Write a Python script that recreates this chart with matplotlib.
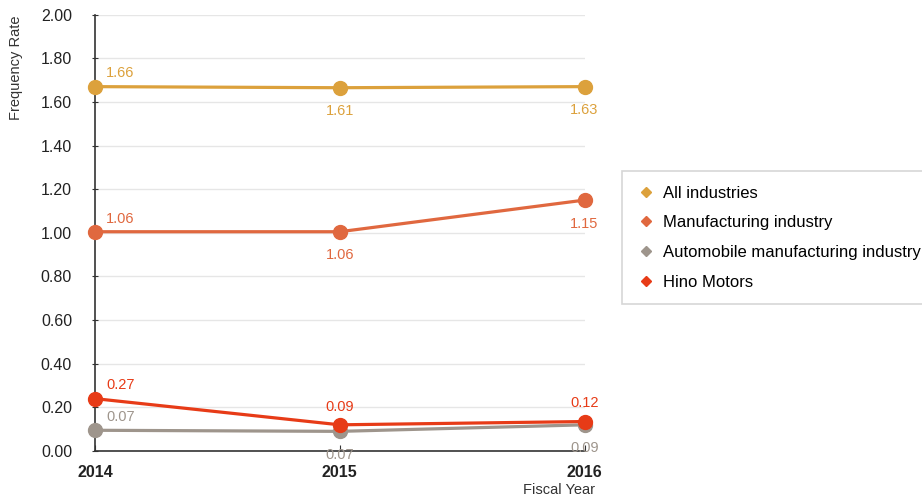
import matplotlib
matplotlib.use('Agg')
import matplotlib.pyplot as plt
from matplotlib.lines import Line2D

plt.rcParams['font.family'] = ['Liberation Sans', 'DejaVu Sans']

years = ['2014', '2015', '2016']
series_names = ['All industries', 'Manufacturing industry',
                'Automobile manufacturing industry', 'Hino Motors']
# plotted positions (as drawn in the original chart)
all_ind = [1.67, 1.665, 1.67]
manuf = [1.005, 1.005, 1.15]
auto = [0.095, 0.09, 0.12]
hino = [0.24, 0.12, 0.135]
# printed labels
all_lbl = ['1.66', '1.61', '1.63']
manuf_lbl = ['1.06', '1.06', '1.15']
auto_lbl = ['0.07', '0.07', '0.09']
hino_lbl = ['0.27', '0.09', '0.12']

colors = ['#DCA13C', '#E0683F', '#9E958C', '#E73B17']

fig = plt.figure(figsize=(9.22, 5.01), dpi=100)
ax = fig.add_axes([0.103, 0.0998, 0.531, 0.871])

x = list(range(len(years)))
data = [all_ind, manuf, auto, hino]
labels = [all_lbl, manuf_lbl, auto_lbl, hino_lbl]
# label placement per point: 'ur' above-right, 'a' above, 'b' below
places = [['ur', 'b', 'b'],
          ['ur', 'b', 'b'],
          ['ur', 'b', 'b'],
          ['ur', 'a', 'a']]
offs = {'ur': (8, 9.5, 'left'), 'a': (0, 13, 'center'), 'b': (0, -17, 'center')}

for vals, lbls, pl, c in zip(data, labels, places, colors):
    ax.plot(x, vals, color=c, lw=2.3, marker='o', ms=10, zorder=3,
            clip_on=False)
    for xi, v, t, p in zip(x, vals, lbls, pl):
        dx, dy, ha = offs[p]
        ax.annotate(t, xy=(xi, v), xytext=(dx, dy), textcoords='offset points',
                    ha=ha, va='center', color=c, fontsize=10.5)

ax.set_xlim(0, 2)
ax.set_ylim(0, 2.0)
ax.set_yticks([i * 0.2 for i in range(11)])
ax.set_yticklabels(['%.2f' % (i * 0.2) for i in range(11)])
ax.set_xticks(x)
ax.set_xticklabels(years)
ax.grid(axis='y', color='#e6e6e6', lw=1)
ax.set_axisbelow(True)
for s in ['top', 'right']:
    ax.spines[s].set_visible(False)
for s in ['left', 'bottom']:
    ax.spines[s].set_color('#333333')
    ax.spines[s].set_linewidth(1.2)
ax.tick_params(axis='y', direction='inout', length=5, colors='#333333',
               labelsize=11.5, labelcolor='#222222', pad=14)
ax.tick_params(axis='x', direction='in', length=4, colors='#333333',
               labelsize=11.5, labelcolor='#222222', pad=10)
for lbl in ax.get_xticklabels():
    lbl.set_fontweight('bold')

fig.text(0.017, 0.97, 'Frequency Rate', rotation=90, ha='center', va='top',
         fontsize=10.5, color='#333333')
fig.text(0.645, 0.022, 'Fiscal Year', ha='right', va='center',
         fontsize=10.5, color='#333333')

handles = [Line2D([], [], color=c, marker='D', ms=5, lw=0) for c in colors]
leg = fig.legend(handles, series_names, loc='upper left',
                 bbox_to_anchor=(0.675, 0.658), fontsize=12,
                 frameon=True, fancybox=False, edgecolor='#cccccc',
                 labelspacing=0.88, borderpad=0.85, handletextpad=0.5,
                 handlelength=1.1, borderaxespad=0)
leg.get_frame().set_linewidth(1.2)

fig.savefig('out.png', dpi=100)
